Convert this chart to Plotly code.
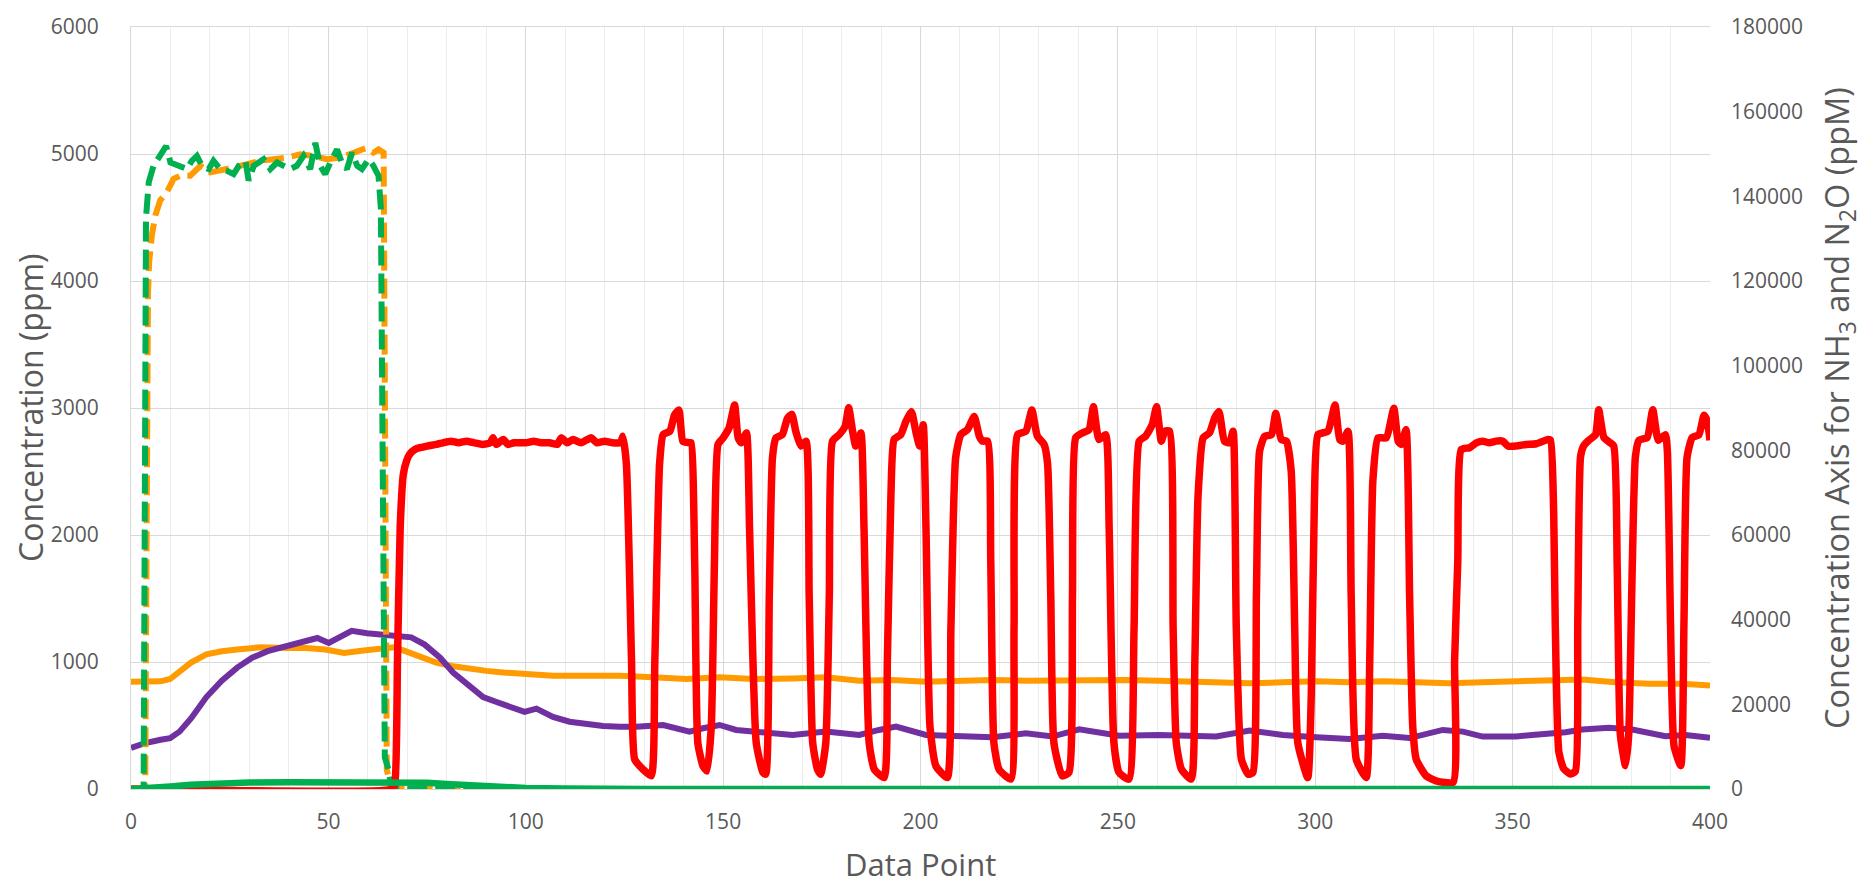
import plotly.graph_objects as go

# ---------------- data ----------------
# Red solid: NH3 (right axis, ppm)
nh3_x = [0, 66, 66.8, 67.5, 68.2, 69.0, 69.8, 70.6, 72, 73.2, 75, 77.4,
         79, 81, 83, 85, 87, 89, 91, 91.7, 92.5, 94.3, 95.5, 97, 100, 102, 104, 106, 108, 109,
         110.5, 112, 114, 116.6, 118, 120, 122, 124, 124.6,
         125.5, 126.8, 127.6, 129.7, 131.8, 132.7, 133.9, 134.8, 136.5, 137.7, 138.8, 139.8, 141.5, 141.9,
         142.8, 143.6, 144.9, 145.9, 147, 147.8, 148.7, 150, 151.5, 152.9, 153.8, 154.6, 155.9,
         156.7, 158.4, 160.1, 160.8, 161.7, 162.5, 163.4, 165, 166.3, 167.4, 168.4, 169.7, 171,
         171.8, 172.7, 173.9, 174.7, 176, 176.9, 177.7, 179.4, 180.9, 181.8, 182.8, 183.6, 184.9,
         185.7, 187, 188.3, 190.8, 191.6, 192.5, 193.3, 195, 196.3, 197.7, 198.8, 199.8, 200.7,
         201.4, 202.4, 203.9, 206.8, 207.7, 208.9, 210.2, 211.9, 213.6, 214.9, 215.7, 217,
         217.8, 218.6, 219.9, 222.9, 223.7, 224.6, 226.7, 228.2, 229.6, 231.3, 232.2,
         233, 233.8, 235.9, 237.6, 238.5, 239.3, 241, 242.7, 243.8, 245.2, 246.9,
         247.8, 249, 250.3, 252.8, 254.1, 255.4, 257, 258.7, 259.8, 261, 261.9, 263.1,
         264, 264.8, 266.1, 268.6, 269.5, 270.3, 271.6, 273.2, 274.5, 275.6, 277, 278.3, 279.2,
         280, 281.3, 283, 284.2, 285.1, 285.9, 287.2, 288.9, 290, 291.4, 292.7, 293.9,
         294.8, 295.6, 298.1, 299, 299.8, 300.7, 303.2, 305, 306.2, 307, 308.3,
         309.1, 310.4, 312.9, 313.8, 314.6, 315.9, 318, 319.9, 321, 321.8, 323,
         323.9, 324.7, 325.6, 328.1, 330.6, 334.9, 335.3, 336.1, 337, 339.1, 340.8, 342.4, 344.1,
         345.8, 347.5, 348.8, 350.9, 353.4, 356, 358.9, 359.6,
         360.4, 360.8, 361.7, 362.9, 364.6, 365.9, 366.5, 367.2, 368, 369.3, 371, 371.8, 373.1, 374.4, 375.6,
         376.5, 377.3, 378.6, 379.4, 380.3, 381.1, 382, 384.1, 385.5, 386.9, 388.7, 389.2,
         390, 390.9, 392.6, 393.4, 394.2, 395.5, 397.2, 398.5, 399.3, 400]
nh3_y = [0, 0, 1000, 30000, 62000, 74400, 77500, 79070, 80230, 80620, 81010, 81400,
         81780, 82170, 81780, 82170, 81780, 81400, 81780, 83000, 81400, 82560, 81400, 81780, 81780, 82170, 81780, 81780, 81400, 82950,
         81780, 82560, 81780, 82950, 81780, 82170, 81780, 81780, 83330,
         76750, 30230, 6980, 4650, 3100, 30230, 76750, 83720, 84500, 88370, 89530, 82170, 81780, 81780,
         53490, 10850, 5430, 4260, 14730, 53490, 81400, 82950, 85270, 90700, 82950, 81780, 84110,
         61240, 10850, 3880, 3490, 45740, 78300, 82950, 83720, 87600, 88530, 84500, 81010, 82170,
         45740, 10850, 4650, 3490, 10850, 45740, 82170, 83720, 85660, 90080, 84500, 81010, 84110,
         61240, 10850, 4650, 2710, 30230, 69000, 82560, 83720, 86820, 89150, 84500, 81010, 86050,
         61240, 14730, 5430, 2710, 37980, 78300, 83720, 84880, 87990, 83330, 82170, 82170,
         53490, 10850, 4650, 2330, 37980, 83720, 84500, 89530, 83330, 81400, 76750,
         45740, 10850, 3100, 3880, 45740, 82950, 84110, 84880, 90310, 82560, 83720,
         61240, 10850, 3880, 2330, 37980, 82170, 83330, 86050, 90310, 82170, 84500, 84500,
         37980, 10850, 4650, 2330, 30230, 69000, 82950, 84110, 87600, 89150, 82170, 81780, 84500,
         37980, 6980, 3490, 3880, 45740, 79850, 83330, 83720, 88760, 82560, 82170, 75190,
         37980, 10850, 2710, 22480, 69000, 83720, 84500, 90700, 82560, 82170, 84500,
         45740, 6980, 2710, 30230, 72870, 82950, 82950, 89920, 82170, 81400, 84880,
         45740, 14730, 6980, 3100, 1940, 1550, 30230, 53490, 80230, 80620, 81780, 82170, 81780,
         82170, 82170, 81010, 81010, 81400, 81550, 82560, 82400,
         65300, 39030, 8800, 4860, 3550, 4200, 39030, 78450, 81070, 82390, 83700, 89610, 83040, 82000, 81070,
         52170, 12750, 5520, 12750, 52170, 78450, 82390, 83040, 89610, 82390, 83700, 79760,
         39030, 10120, 5520, 39030, 78450, 83040, 83700, 88300, 86990, 82390]

# Green solid: N2O (right axis, ppm)
n2o_x = [0, 5, 10, 15, 20, 25, 30, 40, 50, 60, 70, 75, 80, 85, 90, 95, 100, 110, 120, 130, 400]
n2o_y = [0, 200, 600, 1000, 1300, 1450, 1550, 1600, 1650, 1700, 1650, 1500, 1200, 900, 600, 400, 250, 100, 30, 0, 0]

# Orange dashed (left axis, ppm)
orange_dash_x = [0, 3.6, 4.3, 4.6, 5.3, 6.2, 7.4, 9.1, 10.8, 12.5, 15, 17.6, 20.1, 22.6, 26, 29.4,
                 32.7, 36.1, 39.5, 42.9, 46.2, 49.6, 53, 56.4, 59.7, 61.4, 62.7, 64.0, 64.8, 66, 400]
orange_dash_y = [0, 0, 3900, 4150, 4364, 4519, 4636, 4700, 4804, 4829, 4829, 4907, 4855, 4868, 4894, 4920,
                 4946, 4959, 4972, 4997, 4985, 4959, 4972, 5010, 5049, 5010, 5036, 5010, 150, 0, 0]

# Green dashed (left axis, ppm)
green_dash_x = [0, 3.2, 3.8, 4.5, 5.7, 7.4, 8.9, 10, 12.5, 14.2, 15.4, 16.7, 18, 19.7, 20.9, 22.6,
                24.3, 26, 27.3, 29, 29.8, 31.1, 33.6, 35.3, 37, 38.6, 40.3, 42, 43.7, 45.4, 46.7,
                47.9, 49.2, 50.5, 52.2, 53.4, 54.7, 56, 57.3, 58.5, 60.2, 61.4, 62.7, 63.3, 64.3,
                65.2, 66, 400]
green_dash_y = [0, 0, 4500, 4778, 4907, 4985, 5062, 4933, 4907, 4881, 4946, 4985, 4907, 4881, 4946, 4881,
                4868, 4842, 4907, 4946, 4791, 4907, 4959, 4881, 4933, 4907, 4881, 4907, 4985, 4881, 5088,
                4907, 4842, 4933, 5036, 4933, 4881, 5010, 4907, 4881, 4959, 4907, 4829, 4571, 250,
                155, 0, 0]

# Orange solid (left axis, ppm)
orange_x = [0, 7.5, 9.9, 12.3, 15.2, 19.1, 23, 26.9, 32.7, 39.5, 44.3, 49.2, 54, 58.9, 63.7, 66.6,
            69.5, 73.4, 77.3, 81.2, 86, 90, 94.3, 100, 106.9, 115.4, 123.8, 132.2, 140.7, 149.1,
            157.6, 167.6, 176, 184.5, 192.9, 201.4, 209.8, 218.2, 226.7, 235.1, 243.5, 252, 260.4,
            266.5, 274.9, 283.4, 291.8, 300.3, 308.7, 317.1, 325.6, 334, 342.4, 350.9, 359.3,
            367.6, 376, 384.5, 393, 400]
orange_y = [845, 848, 866, 930, 995, 1060, 1085, 1098, 1116, 1111, 1111, 1098, 1072, 1090, 1111, 1116,
            1085, 1034, 995, 969, 943, 930, 917, 904, 891, 891, 891, 879, 866, 879,
            866, 871, 879, 853, 858, 845, 853, 858, 853, 858, 853, 858, 853,
            848, 840, 832, 840, 848, 840, 848, 840, 832, 840, 848, 863,
            863, 841, 828, 828, 815]

# Purple solid (left axis, ppm)
purple_x = [0, 3.6, 7.5, 9.9, 12.3, 15.2, 19.1, 23, 26.9, 30.7, 34.6, 39.5, 42.4, 47.2, 50.1, 53.1,
            55.9, 59.8, 63.7, 67.6, 71, 74.4, 78.3, 81.6, 85.8, 89.2, 92.6, 95.9, 99.7, 102.7,
            106.9, 111.1, 115.4, 119.6, 123.8, 128, 134.8, 141.5, 144.9, 149.1, 153.3, 159.2,
            167.6, 176, 184.5, 189.5, 193.8, 201.4, 209.8, 218.2, 226.7, 233.4, 240.2, 250.3,
            260.4, 266.5, 274.9, 283.4, 291.8, 300.3, 308.7, 317.1, 323.9, 332.3, 337.4, 342.4,
            350.9, 354.9, 359.3, 363.4, 367.6, 374.4, 380.3, 384.5, 388.7, 393.8, 400]
purple_y = [323, 362, 388, 400, 452, 556, 724, 853, 956, 1034, 1085, 1124, 1158, 1189, 1150, 1202,
            1246, 1227, 1215, 1194, 1194, 1137, 1034, 917, 814, 724, 685, 646, 607, 633,
            568, 530, 512, 496, 491, 491, 504, 452, 478, 504, 465, 452,
            426, 452, 426, 465, 491, 426, 419, 408, 439, 413, 470, 419,
            426, 419, 413, 460, 426, 408, 393, 419, 401, 465, 452, 413,
            413, 425, 434, 447, 469, 482, 469, 438, 416, 425, 403]

x_ticks = [0, 50, 100, 150, 200, 250, 300, 350, 400]

# ---------------- styling ----------------
FONT = "Open Sans, Noto Sans, sans-serif"
TXT = "#595959"
GRID = "#D9D9D9"
MINOR = "#EDEDED"

fig = go.Figure()
fig.add_trace(go.Scatter(x=orange_x, y=orange_y, mode="lines",
                         line=dict(color="#FF9B00", width=6), name="orange"))
fig.add_trace(go.Scatter(x=purple_x, y=purple_y, mode="lines",
                         line=dict(color="#7030A0", width=6), name="purple"))
fig.add_trace(go.Scatter(x=orange_dash_x, y=orange_dash_y, mode="lines",
                         line=dict(color="#FF9B00", width=6, dash="20px,8px"), name="orange dashed"))
fig.add_trace(go.Scatter(x=green_dash_x, y=green_dash_y, mode="lines",
                         line=dict(color="#00B050", width=6, dash="20px,8px"), name="green dashed"))
fig.add_trace(go.Scatter(x=nh3_x, y=nh3_y, mode="lines", yaxis="y2",
                         line=dict(color="#FF0000", width=7.5, shape="spline", smoothing=0.5),
                         name="NH3"))
fig.add_trace(go.Scatter(x=n2o_x, y=n2o_y, mode="lines", yaxis="y2",
                         line=dict(color="#00B050", width=6.5), name="N2O"))

L, R, T, B = 131, 155, 16, 97
W, H = 1865, 886
pw = W - L - R

fig.update_layout(
    width=W, height=H,
    margin=dict(l=L, r=R, t=T, b=B, pad=0),
    paper_bgcolor="white", plot_bgcolor="white",
    showlegend=False,
    font=dict(family=FONT, color=TXT, size=21),
    xaxis=dict(range=[0, 400], tickvals=x_ticks, showgrid=True, gridcolor=GRID, gridwidth=1,
               minor=dict(dtick=10, tick0=0, showgrid=True, gridcolor=MINOR, gridwidth=1),
               zeroline=False, showline=True, mirror=True, linecolor=GRID, linewidth=1,
               ticks="", ticklabelstandoff=14, tickfont=dict(size=21, color=TXT)),
    yaxis=dict(range=[0, 6000], dtick=1000, showgrid=True, gridcolor=GRID, gridwidth=1,
               zeroline=False, showline=True, linecolor=GRID, linewidth=1,
               ticks="", ticklabelstandoff=27, tickfont=dict(size=21, color=TXT)),
    yaxis2=dict(range=[0, 180000], dtick=20000, tickformat="d", overlaying="y", side="right",
                showgrid=False, zeroline=False, showline=False, ticks="", ticklabelstandoff=20,
                tickfont=dict(size=21, color=TXT)),
    annotations=[
        dict(text="Concentration (ppm)", textangle=-90, xref="paper", yref="paper",
             x=(30 - L) / pw, y=0.5, xanchor="center", yanchor="middle", showarrow=False,
             font=dict(size=32, color=TXT, family=FONT)),
        dict(text="Data Point", xref="paper", yref="paper", x=0.5, y=(789 - 865) / 773,
             xanchor="center", yanchor="middle", showarrow=False,
             font=dict(size=31, color=TXT, family=FONT)),
        dict(text="Concentration Axis for NH<sub>3</sub> and N<sub>2</sub>O (ppM)", textangle=-90,
             xref="paper", yref="paper", x=(1838 - L) / pw, y=0.5, xanchor="center",
             yanchor="middle", showarrow=False,
             font=dict(size=32.5, color=TXT, family=FONT)),
    ],
)

fig.write_html("out.html", config={"displayModeBar": False},
               post_script="document.body.style.margin='0';")
